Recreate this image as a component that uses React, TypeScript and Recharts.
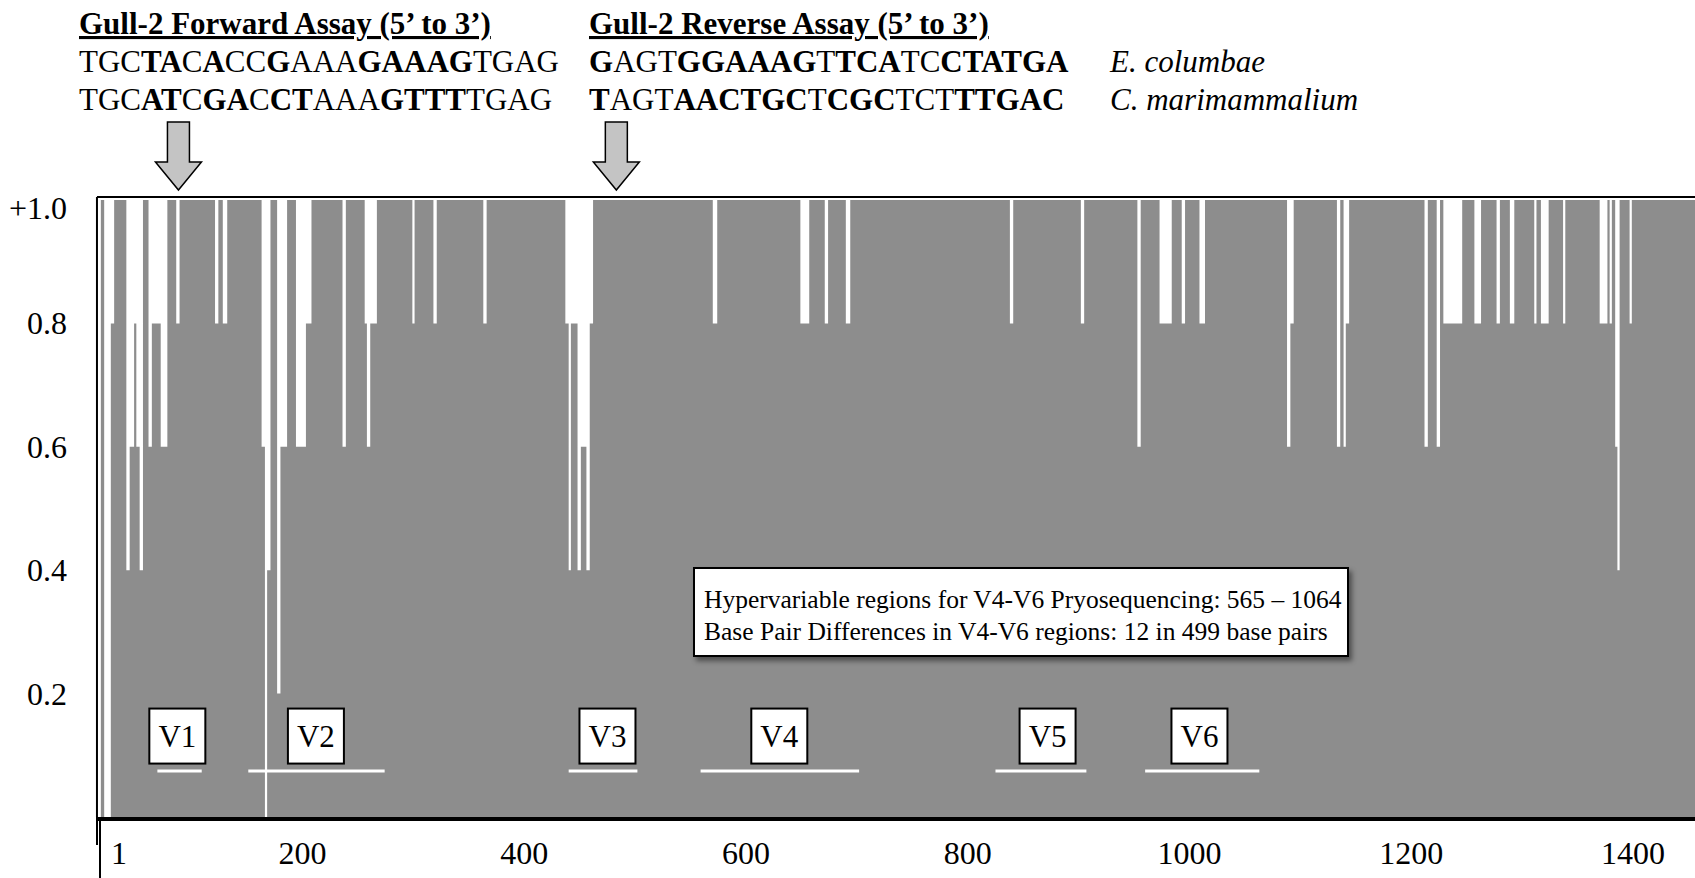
import React from "react";
import { AreaChart, Area, XAxis, YAxis, ReferenceLine, ReferenceDot } from "recharts";

// alignment positions drawn in the plot (E. coli numbering)
const firstPos = 15;
const lastPos = 1456;

// similarity is 1.0 everywhere except these stretches: [from, to), value
const dips: [number, number, number][] = [
	[15, 18, 0], [21, 27, 0], [27, 30, 0.8], [41, 44, 0.4], [44, 48, 0.6], [48, 50, 0.8],
	[50, 53, 0.6], [53, 56, 0.4], [61, 64, 0.6], [64, 72, 0.8], [72, 78, 0.6], [86, 89, 0.8],
	[121, 124, 0.8], [128, 132, 0.8], [163, 166, 0.6], [166, 168, 0], [168, 171, 0.4],
	[177, 180, 0.2], [180, 186, 0.6], [194, 203, 0.6], [203, 208, 0.8],
	[236, 239, 0.6], [256, 258, 0.8], [258, 261, 0.6], [261, 267, 0.8], [299, 301, 0.8],
	[318, 321, 0.8], [363, 366, 0.8],
	[437, 440, 0.8], [440, 442, 0.4], [442, 448, 0.8], [448, 451, 0.4], [451, 456, 0.6],
	[456, 459, 0.4], [459, 462, 0.8], [570, 574, 0.8],
	[649, 657, 0.8], [671, 674, 0.8], [690, 694, 0.8], [838, 841, 0.8],
	[902, 905, 0.8], [953, 956, 0.6], [973, 984, 0.8], [993, 996, 0.8], [1009, 1014, 0.8],
	[1088, 1091, 0.6], [1091, 1094, 0.8], [1133, 1136, 0.6], [1139, 1141, 0.6], [1141, 1144, 0.8],
	[1212, 1215, 0.6], [1223, 1226, 0.6], [1229, 1246, 0.8], [1257, 1263, 0.8], [1277, 1280, 0.8],
	[1289, 1293, 0.8], [1311, 1313, 0.8], [1317, 1324, 0.8], [1337, 1339, 0.8], [1370, 1377, 0.8],
	[1379, 1381, 0.8], [1384, 1386, 0.6], [1386, 1388, 0.4], [1397, 1399, 0.8],
];

const xTicks = [1, 200, 400, 600, 800, 1000, 1200, 1400];
const yTicks = [0.2, 0.4, 0.6, 0.8, 1.0];

const regionNames = ["V1", "V2", "V3", "V4", "V5", "V6"];
const regionStart = [69, 151, 440, 559, 825, 960];
const regionEnd = [109, 274, 502, 702, 907, 1063];
const regionLabelAt = [87, 212, 475, 630, 872, 1009];

const primerAt = [88, 483];

type Seg = [string, boolean];
const fwdColumbae: Seg[] = [["TGC", false], ["TA", true], ["C", false], ["A", true], ["CC", false], ["G", true], ["AAA", false], ["GAAAG", true], ["TGAG", false]];
const fwdMarimam: Seg[] = [["TGC", false], ["AT", true], ["C", false], ["GA", true], ["C", false], ["CT", true], ["AAA", false], ["GTTT", true], ["TGAG", false]];
const revColumbae: Seg[] = [["G", true], ["AGT", false], ["GGAAAG", true], ["T", false], ["TCA", true], ["TC", false], ["CT", true], ["ATGA", true]];
const revMarimam: Seg[] = [["T", true], ["AGT", false], ["AACTGC", true], ["T", false], ["CGC", true], ["TCT", false], ["TTGAC", true]];

const data: { pos: number; sim: number }[] = [];
for (let p = firstPos; p <= lastPos; p++) {
	const d = dips.find(([s, e]) => p >= s && p < e);
	data.push({ pos: p, sim: d ? d[2] : 1 });
}

const serif = "'Liberation Serif', 'Times New Roman', serif";
const barGray = "#8d8d8d";

const XTick = (props: any) => {
	const { x, payload } = props;
	const first = payload.value === 1;
	return (
		<text x={first ? x + 37 : x} y={864} textAnchor="middle" fontSize={32} fontFamily={serif} fill="#000">
			{payload.value}
		</text>
	);
};

const YTick = (props: any) => {
	const { y, payload } = props;
	const top = payload.value === 1;
	const label = top ? "+1.0" : payload.value.toFixed(1);
	return (
		<text x={67} y={y + (top ? 19 : 11)} textAnchor="end" fontSize={32} fontFamily={serif} fill="#000">
			{label}
		</text>
	);
};

const regionBox = (name: string) => (props: any) => {
	const { cx, cy } = props;
	return (
		<g>
			<rect x={cx - 28} y={cy - 27} width={56} height={55} fill="#fff" stroke="#000" strokeWidth={2} />
			<text x={cx} y={cy + 11} textAnchor="middle" fontSize={31} fontFamily={serif} fill="#000">
				{name}
			</text>
		</g>
	);
};

const primerArrow = (props: any) => {
	const { cx, cy } = props;
	const pts = [
		[cx - 11, cy - 75], [cx + 11, cy - 75], [cx + 11, cy - 35], [cx + 23, cy - 35],
		[cx, cy - 7], [cx - 23, cy - 35], [cx - 11, cy - 35],
	].map((p) => p.join(",")).join(" ");
	return <polygon points={pts} fill="#c4c4c4" stroke="#000" strokeWidth={1.5} />;
};

const SeqLine = ({ x, y, segs }: { x: number; y: number; segs: Seg[] }) => (
	<text x={x} y={y} fontSize={31} fontFamily={serif} fill="#000">
		{segs.map(([s, b], i) => (
			<tspan key={i} fontWeight={b ? "bold" : "normal"}>{s}</tspan>
		))}
	</text>
);

const App = () => {
	return (
		<div style={{ position: "relative", width: 1695, height: 878, background: "#fff", overflow: "hidden" }}>
			<style>{"body{margin:0}"}</style>

			<svg width={1695} height={197} style={{ position: "absolute", left: 0, top: 0 }}>
				<text x={79} y={34} fontSize={31} fontWeight="bold" fontFamily={serif} style={{ textDecoration: "underline" }}>
					Gull-2 Forward Assay (5’ to 3’)
				</text>
				<text x={589} y={34} fontSize={31} fontWeight="bold" fontFamily={serif} style={{ textDecoration: "underline" }}>
					Gull-2 Reverse Assay (5’ to 3’)
				</text>
				<SeqLine x={79} y={72} segs={fwdColumbae} />
				<SeqLine x={79} y={110} segs={fwdMarimam} />
				<SeqLine x={589} y={72} segs={revColumbae} />
				<SeqLine x={589} y={110} segs={revMarimam} />
				<text x={1110} y={72} fontSize={31} fontStyle="italic" fontFamily={serif}>E. columbae</text>
				<text x={1110} y={110} fontSize={31} fontStyle="italic" fontFamily={serif}>C. marimammalium</text>
			</svg>

			<div style={{ position: "absolute", left: 0, top: 0 }}>
				<AreaChart width={1695} height={878} data={data} margin={{ top: 197, right: 0, bottom: 0, left: 0 }}>
					<XAxis
						dataKey="pos"
						type="number"
						domain={[1, lastPos]}
						ticks={xTicks}
						interval={0}
						height={61}
						tickLine={false}
						axisLine={false}
						tick={<XTick />}
					/>
					<YAxis
						type="number"
						domain={[0, 1.005]}
						ticks={yTicks}
						interval={0}
						width={82}
						tickLine={false}
						axisLine={false}
						tick={<YTick />}
					/>
					<Area
						type="stepAfter"
						dataKey="sim"
						stroke="none"
						fill={barGray}
						fillOpacity={1}
						dot={false}
						activeDot={false}
						isAnimationActive={false}
					/>
					<ReferenceLine
						segment={[{ x: 14.5, y: 1.005 }, { x: lastPos, y: 1.005 }]}
						stroke="#000"
						strokeWidth={2}
						ifOverflow="visible"
					/>
					<ReferenceLine
						segment={[{ x: 14.5, y: 0 }, { x: 14.5, y: 1.005 }]}
						stroke="#000"
						strokeWidth={2}
						ifOverflow="visible"
					/>
					{regionNames.map((n, i) => (
						<ReferenceLine
							key={n + "l"}
							segment={[{ x: regionStart[i], y: 0.0746 }, { x: regionEnd[i], y: 0.0746 }]}
							stroke="#fff"
							strokeWidth={3}
						/>
					))}
					{regionNames.map((n, i) => (
						<ReferenceDot key={n} x={regionLabelAt[i]} y={0.132} r={1} ifOverflow="visible" shape={regionBox(n)} />
					))}
					{primerAt.map((p) => (
						<ReferenceDot key={p} x={p} y={1.005} r={1} ifOverflow="visible" shape={primerArrow} />
					))}
				</AreaChart>
			</div>

			<div
				style={{
					position: "absolute",
					left: 693,
					top: 567,
					width: 656,
					height: 90,
					border: "2px solid #000",
					background: "#fff",
					boxShadow: "3px 4px 5px rgba(0,0,0,0.45)",
					fontFamily: serif,
					fontSize: 25.5,
					lineHeight: "32px",
					padding: "15px 0 0 9px",
					boxSizing: "border-box",
					whiteSpace: "nowrap",
				}}
			>
				<div>Hypervariable regions for V4-V6 Pryosequencing: 565 – 1064</div>
				<div>Base Pair Differences in V4-V6 regions: 12 in 499 base pairs</div>
			</div>

			<div style={{ position: "absolute", left: 97, top: 817, width: 1598, height: 4, background: "#000" }} />
			<div style={{ position: "absolute", left: 96, top: 817, width: 2, height: 28, background: "#000" }} />
			<div style={{ position: "absolute", left: 99, top: 817, width: 2, height: 61, background: "#000" }} />
		</div>
	);
};

export default App;
